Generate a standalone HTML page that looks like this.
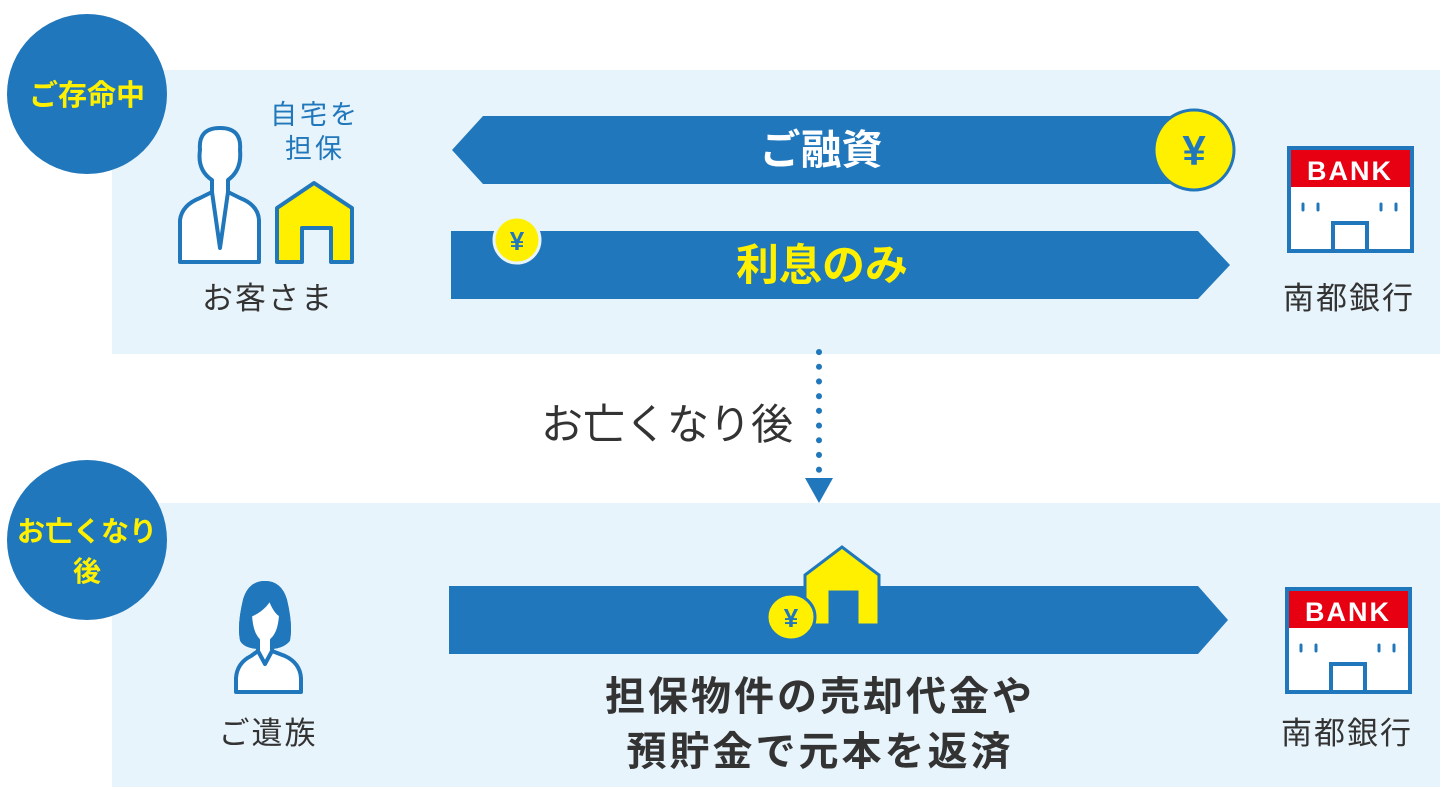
<!DOCTYPE html>
<html><head><meta charset="utf-8"><style>
html,body{margin:0;padding:0;background:#fff;}
svg{display:block;}
text{font-family:"Liberation Sans","Noto Sans CJK JP",sans-serif;}
</style></head><body>
<svg width="1440" height="810" viewBox="0 0 1440 810" xmlns="http://www.w3.org/2000/svg">
<rect x="112" y="70" width="1328" height="284" fill="#e8f4fb"/>
<rect x="112" y="503" width="1328" height="284" fill="#e8f4fb"/>
<circle cx="87" cy="94" r="80" fill="#2077bb"/>
<text x="87" y="105" font-size="29" font-weight="bold" fill="#fff000" text-anchor="middle">ご存命中</text>
<circle cx="87" cy="540" r="80" fill="#2077bb"/>
<text x="87" y="541" font-size="28" font-weight="bold" fill="#fff000" text-anchor="middle">お亡くなり</text>
<text x="87" y="581" font-size="28" font-weight="bold" fill="#fff000" text-anchor="middle">後</text>

<!-- customer -->
<text x="315" y="124" font-size="27" fill="#2077bb" text-anchor="middle" letter-spacing="3">自宅を</text>
<text x="315" y="158" font-size="27" fill="#2077bb" text-anchor="middle" letter-spacing="3">担保</text>
<g fill="#fff" stroke="#2077bb" stroke-width="4" stroke-linejoin="round">
<path d="M180 262 L180 220 Q182 205 200 198 L212 192 L212 180 Q197 170 200 150 Q198 128 220 128 Q242 128 240 150 Q242 170 228 180 L228 192 L240 198 Q258 205 259 220 L259 262 Z"/>
<path d="M212 192 L220 248 L228 192" fill="none"/>
<path d="M277 262 L277 208 L314 183 L352 208 L352 262 L331 262 L331 228 L302 228 L302 262 Z" fill="#fff000"/>
</g>
<text x="268" y="309" font-size="31" fill="#333" text-anchor="middle" letter-spacing="2">お客さま</text>

<!-- arrows top -->
<path d="M483 116 L1190 116 L1190 184 L483 184 L452 150 Z" fill="#2077bb"/>
<text x="821" y="164" font-size="41" font-weight="bold" fill="#fff" text-anchor="middle">ご融資</text>
<circle cx="1194" cy="150" r="40" fill="#fff000" stroke="#2077bb" stroke-width="3"/>
<text x="1194" y="165" font-size="42" font-weight="bold" fill="#2077bb" text-anchor="middle">¥</text>
<path d="M451 231 L1198 231 L1230 265 L1198 299 L451 299 Z" fill="#2077bb"/>
<text x="822" y="280" font-size="43" font-weight="bold" fill="#fff000" text-anchor="middle">利息のみ</text>
<circle cx="517" cy="240" r="23" fill="#fff000" stroke="#e8f4fb" stroke-width="3"/>
<text x="517" y="250" font-size="26" font-weight="bold" fill="#2077bb" text-anchor="middle">¥</text>

<!-- bank top -->
<g>
<rect x="1289" y="148" width="123" height="103" fill="#fff" stroke="#2077bb" stroke-width="4"/>
<rect x="1291" y="150" width="119" height="37" fill="#e60012"/>
<text x="1350" y="180" font-size="27" font-weight="bold" fill="#fff" text-anchor="middle" letter-spacing="2">BANK</text>
<path d="M1333 251 L1333 223 L1367 223 L1367 251" fill="none" stroke="#2077bb" stroke-width="4"/>
<g stroke="#2077bb" stroke-width="3" stroke-linecap="round"><path d="M1303 204v6M1318 204v6M1381 204v6M1396 204v6"/></g>
</g>
<text x="1349" y="309" font-size="31" fill="#333" text-anchor="middle" letter-spacing="2">南都銀行</text>

<!-- dotted connector -->
<line x1="819" y1="352" x2="819" y2="472" stroke="#2077bb" stroke-width="6" stroke-linecap="round" stroke-dasharray="0.1 14.6"/>
<path d="M805 478 L833 478 L819 503 Z" fill="#2077bb"/>
<text x="667" y="439" font-size="42" fill="#333" text-anchor="middle">お亡くなり後</text>

<!-- bottom -->
<g fill="#2077bb" stroke="#2077bb" stroke-width="4" stroke-linejoin="round">
<path d="M245 600 Q250 583 265 583 Q280 583 285 600 Q291 625 288 640 Q283 646 272 647 L272 651 L285 656 Q300 663 301 678 L301 692 L236 692 L236 678 Q237 663 251 656 L258 651 L258 647 Q245 646 242 640 Q239 625 245 600 Z" fill="#fff"/>
<path d="M245 600 Q250 583 265 583 Q280 583 285 600 Q291 625 288 640 Q283 646 272 647 L272 640 Q280 633 281 615 Q275 612 270 598 Q263 610 250 615 Q251 633 258 640 L258 647 Q245 646 242 640 Q239 625 245 600 Z"/>
<path d="M258 651 L265 664 L272 651" fill="none"/>
</g>
<text x="268" y="744" font-size="31" fill="#333" text-anchor="middle" letter-spacing="2">ご遺族</text>

<path d="M449 586 L1198 586 L1228 620 L1198 654 L449 654 Z" fill="#2077bb"/>
<path d="M805 625 L805 575 L842 547 L879 575 L879 625 L857 625 L857 592 L830 592 L830 625 Z" fill="#fff000" stroke="#2077bb" stroke-width="3"/>
<ellipse cx="791" cy="617" rx="24" ry="23" fill="#fff000" stroke="#2077bb" stroke-width="3"/>
<text x="791" y="627" font-size="26" font-weight="bold" fill="#2077bb" text-anchor="middle">¥</text>

<text x="820" y="710" font-size="40" font-weight="bold" fill="#333" text-anchor="middle" letter-spacing="3">担保物件の売却代金や</text>
<text x="820" y="765" font-size="40" font-weight="bold" fill="#333" text-anchor="middle" letter-spacing="3">預貯金で元本を返済</text>

<g>
<rect x="1287" y="589" width="123" height="103" fill="#fff" stroke="#2077bb" stroke-width="4"/>
<rect x="1289" y="591" width="119" height="37" fill="#e60012"/>
<text x="1348" y="621" font-size="27" font-weight="bold" fill="#fff" text-anchor="middle" letter-spacing="2">BANK</text>
<path d="M1331 692 L1331 664 L1365 664 L1365 692" fill="none" stroke="#2077bb" stroke-width="4"/>
<g stroke="#2077bb" stroke-width="3" stroke-linecap="round"><path d="M1301 645v6M1316 645v6M1379 645v6M1394 645v6"/></g>
</g>
<text x="1347" y="744" font-size="31" fill="#333" text-anchor="middle" letter-spacing="2">南都銀行</text>
</svg>
</body></html>
